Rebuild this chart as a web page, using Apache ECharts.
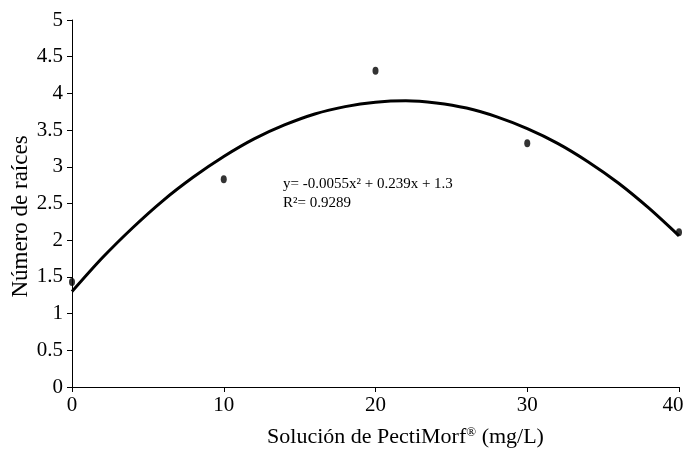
<!DOCTYPE html>
<html><head><meta charset="utf-8">
<script src="https://cdn.jsdelivr.net/npm/echarts@6/dist/echarts.min.js"></script>
<style>html,body{margin:0;padding:0;background:#fff}#c{width:686px;height:451px}</style>
</head><body><div id="c"></div>
<script>
var xTicks = [0, 10, 20, 30, 40];
var obsX = [0, 10, 20, 30, 40];
var obsY = [1.43, 2.83, 4.31, 3.32, 2.11];
var curveX = [0, 2, 4, 6, 8, 10, 12, 14, 16, 18, 20, 22, 24, 26, 28, 30, 32, 34, 36, 38, 40];
var curveY = [1.30, 1.76, 2.17, 2.54, 2.86, 3.14, 3.38, 3.57, 3.72, 3.82, 3.88, 3.90, 3.87, 3.80, 3.68, 3.52, 3.32, 3.07, 2.78, 2.44, 2.06];
var eqText = 'y= -0.0055x\u00b2 + 0.239x + 1.3';
var r2Text = 'R\u00b2= 0.9289';
var xTitle = 'Soluci\u00f3n de PectiMorf{sup|\u00ae} (mg/L)';
var yTitle = 'N\u00famero de ra\u00edces';

var F = '"Liberation Serif", "Times New Roman", serif';
var chart = echarts.init(document.getElementById('c'));
chart.setOption({
  animation: false,
  backgroundColor: '#fff',
  grid: {left: 72, right: 7, top: 20, bottom: 64, containLabel: false, outerBoundsMode: 'none'},
  xAxis: {
    type: 'value', min: 0, max: 40, interval: 10,
    name: xTitle, nameLocation: 'middle', nameGap: 39, nameMoveOverlap: false,
    nameTextStyle: {fontFamily: F, fontSize: 22, color: '#000', padding: [0, 0, 0, 60],
      rich: {sup: {fontFamily: F, fontSize: 13, color: '#000', verticalAlign: 'top', padding: [0, 0, 7, 0]}}},
    axisLine: {lineStyle: {color: '#000', width: 1}},
    axisTick: {show: true, length: 5, lineStyle: {color: '#000'}},
    axisLabel: {fontFamily: F, fontSize: 21, color: '#000', margin: 8,
      formatter: function (v) { return v === xTicks[xTicks.length - 1] ? '{last|' + v + '}' : String(v); },
      rich: {last: {fontFamily: F, fontSize: 21, color: '#000', padding: [0, 12, 0, 0]}}},
    splitLine: {show: false}
  },
  yAxis: {
    type: 'value', min: 0, max: 5, interval: 0.5,
    name: yTitle, nameLocation: 'middle', nameGap: 40, nameRotate: 90, nameMoveOverlap: false,
    nameTextStyle: {fontFamily: F, fontSize: 23, color: '#000', padding: [0, 26, 0, 0]},
    axisLine: {show: true, lineStyle: {color: '#000', width: 1}},
    axisTick: {show: true, length: 5, lineStyle: {color: '#000'}},
    axisLabel: {fontFamily: F, fontSize: 21, color: '#000', margin: 9},
    splitLine: {show: false}
  },
  series: [
    {
      type: 'line', smooth: 0.3, symbol: 'none',
      data: curveX.map(function (x, i) { return [x, curveY[i]]; }),
      lineStyle: {color: '#000', width: 3}, z: 2
    },
    {
      type: 'scatter', symbol: 'circle', symbolSize: [6, 8],
      data: obsX.map(function (x, i) { return [x, obsY[i]]; }),
      itemStyle: {color: '#000'}, z: 3
    }
  ],
  graphic: [
    {type: 'text', left: 283, top: 177, style: {text: eqText, fontFamily: F, fontSize: 15, fill: '#000'}},
    {type: 'text', left: 283, top: 196, style: {text: r2Text, fontFamily: F, fontSize: 15, fill: '#000'}}
  ]
});
</script></body></html>
